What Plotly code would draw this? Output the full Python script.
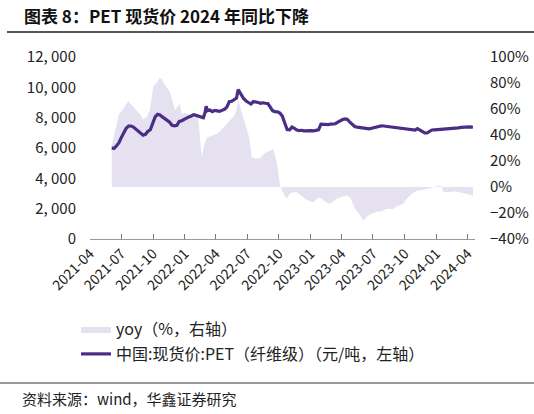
import plotly.graph_objects as go

# ---------------- data ----------------
price_dates = [
    "2021-06-03", "2021-06-10", "2021-06-17", "2021-06-24", "2021-07-01", "2021-07-08", "2021-07-15",
    "2021-07-22", "2021-07-29", "2021-08-05", "2021-08-12", "2021-08-19", "2021-08-26", "2021-09-02",
    "2021-09-09", "2021-09-16", "2021-09-23", "2021-09-30", "2021-10-07", "2021-10-14", "2021-10-21",
    "2021-10-28", "2021-11-04", "2021-11-11", "2021-11-18", "2021-11-25", "2021-12-02", "2021-12-09",
    "2021-12-16", "2021-12-23", "2021-12-30", "2022-01-06", "2022-01-13", "2022-01-20", "2022-01-27",
    "2022-02-03", "2022-02-10", "2022-02-17", "2022-02-24", "2022-03-01", "2022-03-04", "2022-03-08",
    "2022-03-15", "2022-03-22", "2022-03-29", "2022-04-05", "2022-04-12", "2022-04-19", "2022-04-26",
    "2022-05-03", "2022-05-10", "2022-05-17", "2022-05-24", "2022-05-31", "2022-06-05", "2022-06-09",
    "2022-06-14", "2022-06-21", "2022-06-28", "2022-07-05", "2022-07-12", "2022-07-19", "2022-07-26",
    "2022-08-02", "2022-08-09", "2022-08-16", "2022-08-23", "2022-08-30", "2022-09-06", "2022-09-13",
    "2022-09-20", "2022-09-27", "2022-10-04", "2022-10-11", "2022-10-18", "2022-10-25", "2022-11-01",
    "2022-11-08", "2022-11-15", "2022-11-22", "2022-11-29", "2022-12-06", "2022-12-13", "2022-12-20",
    "2022-12-27", "2023-01-03", "2023-01-10", "2023-01-17", "2023-01-24", "2023-01-31", "2023-02-07",
    "2023-02-14", "2023-02-21", "2023-02-28", "2023-03-07", "2023-03-14", "2023-03-21", "2023-03-28",
    "2023-04-04", "2023-04-11", "2023-04-18", "2023-04-25", "2023-05-02", "2023-05-09", "2023-05-16",
    "2023-05-23", "2023-05-30", "2023-06-06", "2023-06-13", "2023-06-20", "2023-06-27", "2023-07-04",
    "2023-07-11", "2023-07-18", "2023-07-25", "2023-08-01", "2023-08-08", "2023-08-15", "2023-08-22",
    "2023-08-29", "2023-09-05", "2023-09-12", "2023-09-19", "2023-09-26", "2023-10-03", "2023-10-10",
    "2023-10-17", "2023-10-24", "2023-10-31", "2023-11-07", "2023-11-14", "2023-11-21", "2023-11-28",
    "2023-12-05", "2023-12-12", "2023-12-19", "2023-12-26", "2024-01-02", "2024-01-09", "2024-01-16",
    "2024-01-23", "2024-01-30", "2024-02-06", "2024-02-13", "2024-02-20", "2024-02-27", "2024-03-05",
    "2024-03-12", "2024-03-19", "2024-03-26", "2024-04-02", "2024-04-09", "2024-04-16",
]
price_values = [
    5990, 5980, 6150, 6350, 6700, 7050, 7300,
    7450, 7450, 7380, 7250, 7100, 6950, 6850,
    6900, 7100, 7200, 7600, 8050, 8220, 8180,
    8050, 7950, 7850, 7700, 7500, 7460, 7500,
    7750, 7800, 7900, 7970, 8050, 8100, 8200,
    8150, 8100, 8050, 8000, 8350, 8750, 8450,
    8500, 8400, 8480, 8450, 8420, 8480, 8550,
    8700, 9050, 9080, 9200, 9300, 9850, 9700,
    9450, 9250, 9100, 9000, 8900, 9060, 9050,
    9000, 8950, 8980, 8950, 8930, 8700, 8450,
    8400, 8380, 8300, 8100, 7650, 7220, 7200,
    7380, 7300, 7180, 7150, 7170, 7130, 7150,
    7170, 7150, 7130, 7160, 7200, 7570, 7550,
    7560, 7540, 7570, 7580, 7600, 7700, 7800,
    7880, 7920, 7880, 7700, 7550, 7420, 7380,
    7350, 7330, 7300, 7280, 7260, 7300, 7350,
    7400, 7440, 7460, 7450, 7430, 7400, 7380,
    7350, 7320, 7300, 7280, 7250, 7240, 7230,
    7220, 7200, 7180, 7280, 7170, 7060, 6990,
    7000, 7100, 7190, 7200, 7210, 7230, 7240,
    7240, 7250, 7240, 7260, 7300, 7320, 7330,
    7360, 7380, 7370, 7400, 7390, 7370,
]

yoy_dates = [
    "2021-06-03", "2021-06-10", "2021-06-17", "2021-06-24", "2021-07-01", "2021-07-07", "2021-07-14",
    "2021-07-21", "2021-07-28", "2021-08-04", "2021-08-14", "2021-08-24", "2021-09-03", "2021-09-13",
    "2021-09-22", "2021-10-02", "2021-10-12", "2021-10-20", "2021-10-26", "2021-11-05", "2021-11-19",
    "2021-11-28", "2021-12-04", "2021-12-11", "2021-12-18", "2021-12-23", "2022-01-02", "2022-01-16",
    "2022-01-26", "2022-02-08", "2022-02-14", "2022-02-19", "2022-02-24", "2022-03-06", "2022-03-16",
    "2022-03-25", "2022-04-04", "2022-04-14", "2022-04-24", "2022-05-03", "2022-05-12", "2022-05-22",
    "2022-05-30", "2022-06-05", "2022-06-12", "2022-06-19", "2022-06-26", "2022-07-04", "2022-07-10",
    "2022-07-14", "2022-07-24", "2022-08-07", "2022-08-17", "2022-08-27", "2022-09-06", "2022-09-15",
    "2022-09-25", "2022-10-04", "2022-10-09", "2022-10-16", "2022-10-24", "2022-11-02", "2022-11-12",
    "2022-11-22", "2022-12-01", "2022-12-11", "2022-12-21", "2022-12-30", "2023-01-09", "2023-01-19",
    "2023-01-28", "2023-02-06", "2023-02-16", "2023-02-26", "2023-03-08", "2023-03-18", "2023-03-27",
    "2023-04-06", "2023-04-16", "2023-04-26", "2023-05-03", "2023-05-10", "2023-05-20", "2023-05-28",
    "2023-06-03", "2023-06-13", "2023-06-23", "2023-07-03", "2023-07-12", "2023-07-22", "2023-08-01",
    "2023-08-10", "2023-08-20", "2023-08-29", "2023-09-08", "2023-09-18", "2023-09-27", "2023-10-07",
    "2023-10-17", "2023-10-27", "2023-11-05", "2023-11-15", "2023-11-25", "2023-12-04", "2023-12-14",
    "2023-12-23", "2024-01-01", "2024-01-10", "2024-01-16", "2024-01-21", "2024-01-31", "2024-02-10",
    "2024-02-20", "2024-02-29", "2024-03-10", "2024-03-20", "2024-03-29", "2024-04-08", "2024-04-16",
]
yoy_values = [
    32, 40, 50, 56, 58, 60, 63,
    66, 64, 62, 59, 56, 52, 54,
    59, 78, 80, 84, 83, 78, 73,
    64, 59, 62, 64, 56, 57, 56,
    57, 56, 38, 23, 30, 38, 39,
    40, 41, 43, 46, 49, 51, 54,
    58, 67, 60, 54, 48, 41, 33,
    23, 22, 22, 25, 27, 28, 29,
    19, 2, -2, -6, -9, -5, -4,
    -4, -6, -8, -10, -11, -12, -9,
    -8, -10, -12, -13, -11, -9, -8,
    -7, -6.5, -8, -12, -17, -20, -23,
    -26, -23, -21, -20, -19, -19, -18,
    -17, -17, -17, -15, -14, -13, -9,
    -6.5, -4, -3, -2.5, -2, -2, -1,
    0, 0.5, 0.8, 0.5, -4, -4, -3.5,
    -3.5, -3.5, -4, -4.5, -5, -6, -7,
]

left_ticks = [0, 2000, 4000, 6000, 8000, 10000, 12000]
left_tick_text = ["0", "2, 000", "4, 000", "6, 000", "8, 000", "10, 000", "12, 000"]
right_ticks = [-40, -20, 0, 20, 40, 60, 80, 100]
right_tick_text = ["\u221240%", "\u221220%", "0%", "20%", "40%", "60%", "80%", "100%"]

title_text = "图表 8：PET 现货价 2024 年同比下降"
yoy_name = "yoy（%，右轴）"
price_name = "中国:现货价:PET（纤维级）（元/吨，左轴）"
source_text = "资料来源：wind，华鑫证券研究"

# ---------------- figure ----------------
FONT = "Noto Sans CJK SC, Noto Sans, sans-serif"
W, H = 534, 414
L, R, T, B = 90, 59, 57, 175
PW, PH = W - L - R, H - T - B


def px_x(x):
    return (x - L) / PW


def px_y(y):
    return (H - B - y) / PH


fig = go.Figure()
# yoy on the base (right-side) axis so it sits behind the price line
fig.add_trace(go.Scatter(
    x=yoy_dates, y=yoy_values, yaxis="y", name=yoy_name,
    mode="lines", line=dict(width=0, color="#E5E1F0"),
    fill="tozeroy", fillcolor="#E5E1F0", legend="legend",
))
# price on the overlaying (left-side) axis, drawn on top
fig.add_trace(go.Scatter(
    x=price_dates, y=price_values, yaxis="y2", name=price_name,
    mode="lines", line=dict(width=3.2, color="#4B2C86"), legend="legend2",
))

fig.update_layout(
    width=W, height=H, autosize=False,
    margin=dict(l=L, r=R, t=T, b=B, pad=0, autoexpand=False),
    paper_bgcolor="white", plot_bgcolor="white",
    font=dict(family=FONT, size=14, color="#222"),
    xaxis=dict(type="date", range=["2021-04-01", "2024-04-22"],
               tick0="2021-04-01", dtick="M3", tickformat="%Y-%m",
               tickangle=-45, ticks="inside", ticklen=5, tickcolor="#777",
               showline=True, linecolor="#999", linewidth=1, showgrid=False,
               zeroline=False, automargin=False, tickfont=dict(size=14, color="#222")),
    yaxis=dict(range=[-40, 100], tickvals=right_ticks, ticktext=right_tick_text,
               side="right", showgrid=False, zeroline=False, automargin=False,
               showline=False, ticks="", ticklabelstandoff=14,
               tickfont=dict(size=15, color="#222")),
    yaxis2=dict(range=[0, 12000], tickvals=left_ticks, ticktext=left_tick_text,
                overlaying="y", side="left", automargin=False,
                showgrid=False, zeroline=False, showline=False, ticks="",
                ticklabelstandoff=13, tickfont=dict(size=15, color="#222")),
    legend=dict(x=px_x(76), y=px_y(312), xanchor="left", yanchor="top",
                bgcolor="rgba(0,0,0,0)", font=dict(size=16, color="#222")),
    legend2=dict(x=px_x(76), y=px_y(337), xanchor="left", yanchor="top",
                 bgcolor="rgba(0,0,0,0)", font=dict(size=16, color="#222")),
    showlegend=True,
)

fig.add_annotation(text="<b>" + title_text + "</b>", xref="paper", yref="paper",
                   x=px_x(22), y=px_y(16), xanchor="left", yanchor="middle",
                   align="left", showarrow=False,
                   font=dict(family=FONT, size=17, color="#111"))
fig.add_shape(type="line", xref="paper", yref="paper",
              x0=px_x(7), x1=px_x(534), y0=px_y(32), y1=px_y(32),
              line=dict(color="#555", width=2))
fig.add_shape(type="line", xref="paper", yref="paper",
              x0=px_x(0), x1=px_x(534), y0=px_y(383), y1=px_y(383),
              line=dict(color="#333", width=1))
fig.add_annotation(text=source_text, xref="paper", yref="paper",
                   x=px_x(20), y=px_y(398), xanchor="left", yanchor="middle",
                   showarrow=False, font=dict(family=FONT, size=15, color="#222"))

fig.write_html(
    "out.html",
    config={"displayModeBar": False},
    post_script="document.body.style.margin='0';document.body.style.overflow='hidden';",
)
